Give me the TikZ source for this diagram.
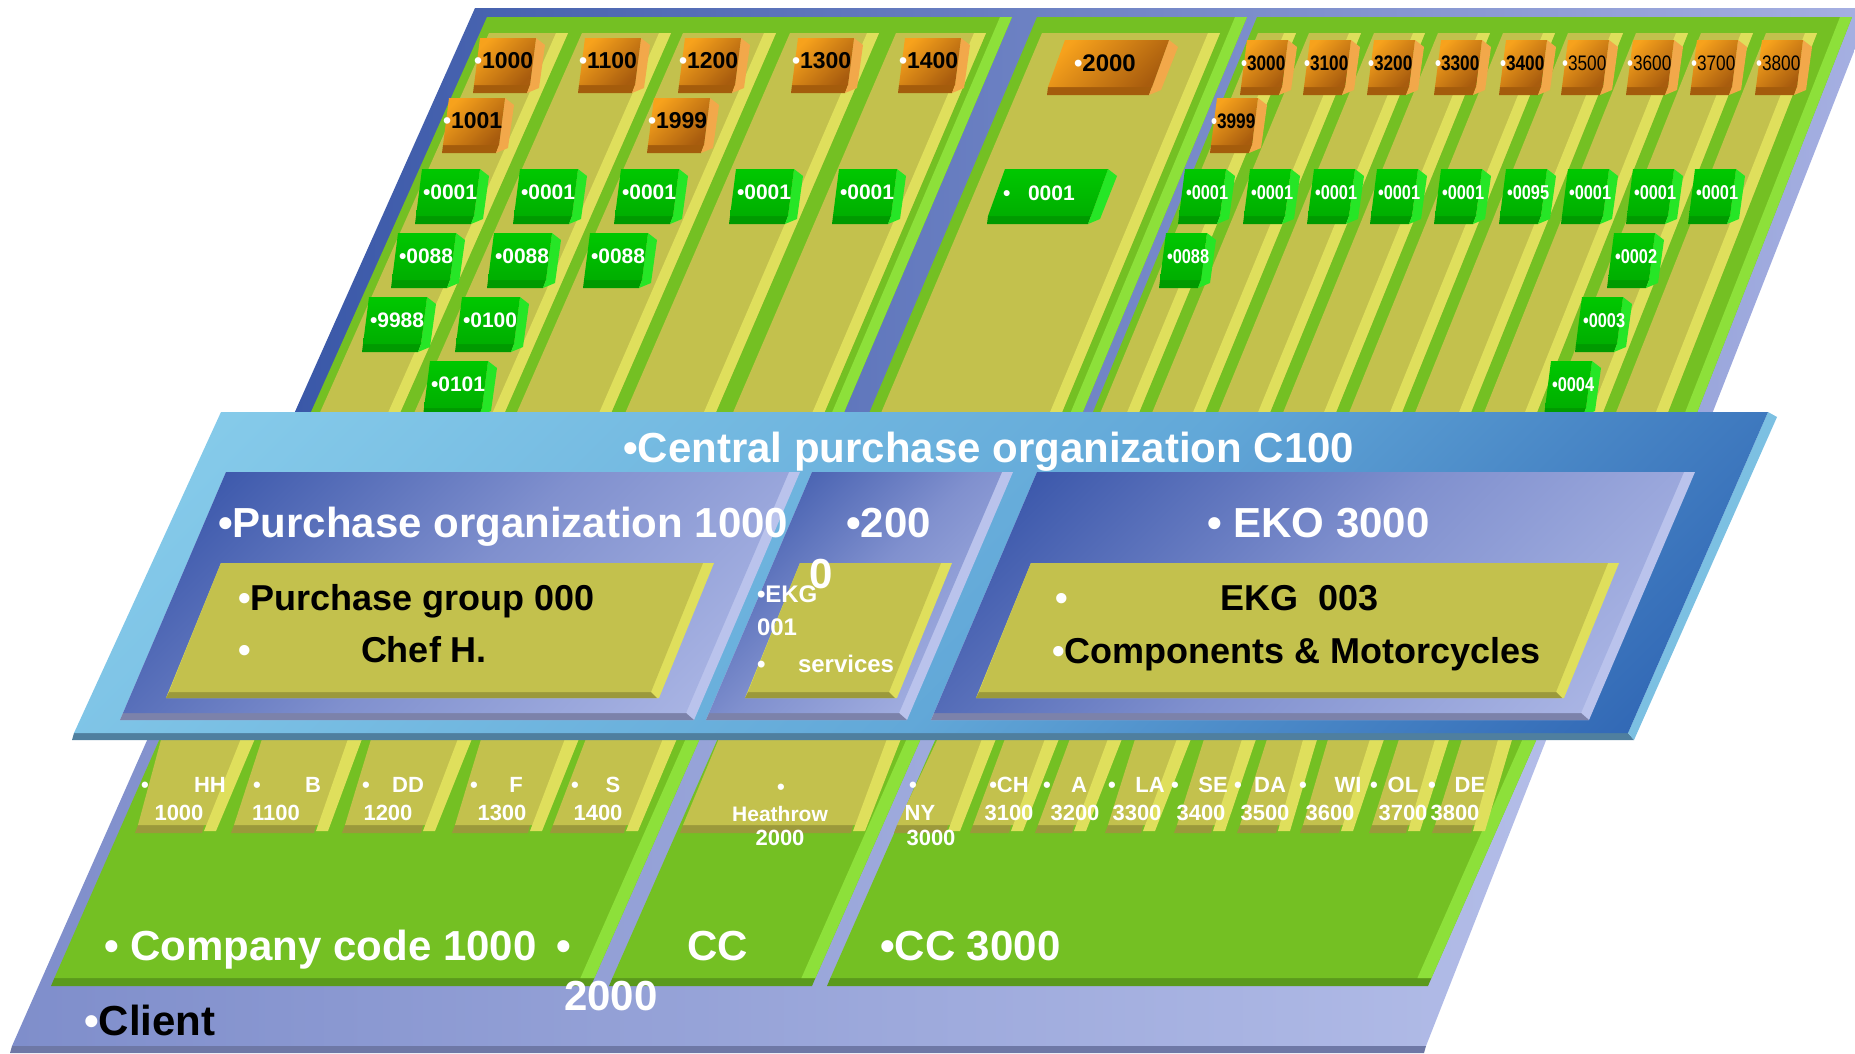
\documentclass[tikz,border=0pt]{standalone}
\usepackage{fontspec}
\setmainfont{Liberation Sans}
\newfontfamily\narrowsans[FakeStretch=0.82]{Liberation Sans}

% palette
\definecolor{olv}{HTML}{C3C14D}
\definecolor{olvlt}{HTML}{DFDF5C}
\definecolor{olvdk}{HTML}{9B993B}
\definecolor{grn}{HTML}{74C023}
\definecolor{grnlt}{HTML}{8DE03A}
\definecolor{grndk}{HTML}{5A9A1C}
\definecolor{topblue}{HTML}{3A58A8}
\definecolor{toplav}{HTML}{A6B0E2}
\definecolor{clientL}{HTML}{7F8ECB}
\definecolor{clientR}{HTML}{B3BDE8}
\definecolor{clientE}{HTML}{6E78A6}
\definecolor{bandlt}{HTML}{8ACFEC}
\definecolor{bandmid}{HTML}{62A8D8}
\definecolor{banddk}{HTML}{2A5EB0}
\definecolor{bandedge}{HTML}{4F7F9F}
\definecolor{bandside}{HTML}{7CC0E2}
\definecolor{pudk}{HTML}{2C4BA3}
\definecolor{pumid}{HTML}{8090CE}
\definecolor{pult}{HTML}{B3BDE9}
\definecolor{pubevel}{HTML}{BAC3EC}
\definecolor{pubot}{HTML}{7C82AA}
\definecolor{orlt}{HTML}{F7A21C}
\definecolor{ordk}{HTML}{A85C0E}
\definecolor{orside}{HTML}{F2A84A}
\definecolor{orbot}{HTML}{A45C0C}
\definecolor{gbfront}{HTML}{00C800}
\definecolor{gbfront2}{HTML}{00AE00}
\definecolor{gbside}{HTML}{26E626}
\definecolor{gbbot}{HTML}{009A00}

% diagonal ramps, spread over the whole shading square
\pgfdeclarehorizontalshading{bandramp}{100bp}{color(0bp)=(bandlt); color(15bp)=(bandlt); color(55bp)=(bandmid); color(85bp)=(banddk); color(100bp)=(banddk)}
\pgfdeclarehorizontalshading{porgramp}{100bp}{color(0bp)=(pudk); color(15bp)=(pudk); color(50bp)=(pumid); color(85bp)=(pult); color(100bp)=(pult)}

\tikzset{
  ofront/.style={top color=orlt, bottom color=ordk, shading angle=45},
  oside/.style={fill=orside},
  obot/.style={fill=orbot},
  gfront/.style={top color=gbfront, bottom color=gbfront2},
  gside/.style={fill=gbside},
  gbot/.style={fill=gbbot},
  boxlab/.style={inner sep=0pt, outer sep=0pt, anchor=base west, font=\bfseries\fontsize{21}{21}\selectfont},
  olab/.style={boxlab, text=black, font=\bfseries\fontsize{23}{23}\selectfont},
  glab/.style={boxlab, text=white},
  olabw/.style={olab, font=\bfseries\fontsize{24}{24}\selectfont},
  glabw/.style={glab, font=\bfseries\fontsize{21}{21}\selectfont},
  olabn/.style={olab, font=\narrowsans\bfseries\fontsize{21}{21}\selectfont},
  olabr/.style={olab, font=\narrowsans\fontsize{21}{21}\selectfont},
  glabn/.style={glab, font=\narrowsans\bfseries\fontsize{20}{20}\selectfont},
  txt/.style={inner sep=0pt, outer sep=0pt, anchor=base west},
  tw42/.style={txt, text=white, font=\bfseries\fontsize{42}{42}\selectfont},
  tk42/.style={txt, text=black, font=\bfseries\fontsize{42}{42}\selectfont},
  tk36/.style={txt, text=black, font=\bfseries\fontsize{36}{36}\selectfont},
  tw24/.style={txt, text=white, font=\bfseries\fontsize{24}{24}\selectfont},
  tw22/.style={inner sep=0pt, outer sep=0pt, anchor=base, text=white, font=\bfseries\fontsize{22}{22}\selectfont},
}

% upper layer: green panel given by its x at y=17, running down to y=414
\newcommand{\tpanel}[2]{%
  \pgfmathsetmacro\tpBL{#1-(0.446-(#1-475)/254/100)*397}%
  \pgfmathsetmacro\tpBR{#2-(0.446-(#2-475)/254/100)*397}%
  \fill[grn] (#1,17) -- (#2,17) -- (\tpBR,414) -- (\tpBL,414) -- cycle;
  \fill[grnlt] (#2-12,17) -- (#2,17) -- (\tpBR,414) -- (\tpBR-12,414) -- cycle;
}
% upper layer: olive plant column given by its x at y=33
\newcommand{\tstrip}[2]{%
  \pgfmathsetmacro\tsBL{#1-(0.446-(#1-475)/254/100)*381}%
  \pgfmathsetmacro\tsBR{#2-(0.446-(#2-475)/254/100)*381}%
  \fill[olv] (#1,33) -- (#2,33) -- (\tsBR,414) -- (\tsBL,414) -- cycle;
  \fill[olvlt] (#2-12,33) -- (#2,33) -- (\tsBR,414) -- (\tsBR-12,414) -- cycle;
}
% bevelled tile: front, side and bottom styles, top-left x, y, front width, slant
\newcommand{\cubeshape}[7]{%
  \path[#3] (#4-#7,#5+47) -- (#4+#6-#7,#5+47) -- (#4+#6-#7-3,#5+55) -- (#4-#7-1,#5+55) -- cycle;
  \path[#2] (#4+#6,#5) -- (#4+#6+9,#5+7) -- (#4+#6+9-#7,#5+50) -- (#4+#6-#7-3,#5+55) -- (#4+#6-#7,#5+47) -- cycle;
  \path[#1] (#4,#5) -- (#4+#6,#5) -- (#4+#6-#7,#5+47) -- (#4-#7,#5+47) -- cycle;
}
\newcommand{\obox}[6]{%
  \cubeshape{ofront}{oside}{obot}{#2}{#3}{#4}{6}%
  \node[#5] (#1) at (#2-6,#3+30) {\textcolor{white}{•}#6};}
\newcommand{\gbox}[6]{%
  \cubeshape{gfront}{gside}{gbot}{#2}{#3}{#4}{6}%
  \node[#5] (#1) at (#2+1,#3+30) {•#6};}
% lower layer: company code panel given by its x at y=738
\newcommand{\bpanel}[2]{%
  \fill[grndk] (#1-105.6,978) -- (#2-105.6,978) -- (#2-109,986) -- (#1-109,986) -- cycle;
  \fill[grn] (#1+8,720) -- (#2+8,720) -- (#2-105.6,978) -- (#1-105.6,978) -- cycle;
  \fill[grnlt] (#2-6,720) -- (#2+8,720) -- (#2-105.6,978) -- (#2-119.6,978) -- cycle;
}
% lower layer: plant column, top x pair (y=736) and bottom x pair (y=825)
\newcommand{\bstrip}[4]{%
  \fill[olvdk] (#3,825) -- (#4-12,825) -- (#4-14,833) -- (#3-3,833) -- cycle;
  \fill[olv] (#1,736) -- (#2,736) -- (#4,825) -- (#3,825) -- cycle;
  \fill[olvlt] (#2-14,736) -- (#2,736) -- (#4,831) -- (#4-12,831) -- cycle;
}
% purchase organisation slab, top-left and top-right x at y=472
\newcommand{\pobox}[2]{%
  \fill[pubevel] (#1,472) -- (#2,472) -- (#2-106,720) -- (#1-106,720) -- cycle;
  \fill[pubot] (#1-103,713) -- (#2-114,713) -- (#2-106,720) -- (#1-106,720) -- cycle;
  \path[shade, shading=porgramp, shading angle=-45] (#1,472) -- (#2-11,472) -- (#2-114,713) -- (#1-103,713) -- cycle;
}
% purchase group slab, top-left and top-right x at y=563
\newcommand{\pgbox}[2]{%
  \fill[olvlt] (#1,563) -- (#2,563) -- (#2-55,698) -- (#1-55,698) -- cycle;
  \fill[olvdk] (#1-52,692) -- (#2-63,692) -- (#2-57,698) -- (#1-55,698) -- cycle;
  \fill[olv] (#1,563) -- (#2-11,563) -- (#2-63,692) -- (#1-52,692) -- cycle;
}

\begin{document}
\begin{tikzpicture}[x=1pt,y=-1pt]
\useasboundingbox (0,0) rectangle (1855,1053);

% ---------- upper layer: client frame, company codes, plants, storage locations
\path[left color=topblue, right color=toplav] (475,8) -- (1871,8) -- (1712,414) -- (294,414) -- cycle;
\tpanel{487}{1012}
\tpanel{1037}{1247}
\tpanel{1257}{1852}
\tstrip{489}{568}\tstrip{582}{671}\tstrip{683}{776}\tstrip{790}{879}\tstrip{896}{986}
\tstrip{1042}{1220}
\tstrip{1258}{1296}\tstrip{1309}{1361}\tstrip{1374}{1425}\tstrip{1438}{1490}\tstrip{1503}{1555}
\tstrip{1568}{1623}\tstrip{1636}{1688}\tstrip{1701}{1753}\tstrip{1766}{1817}

% plants of company code 1000
\obox{w1000}{480}{38}{56}{olab}{1000}
\obox{w1100}{585}{38}{56}{olab}{1100}
\obox{w1200}{685}{38}{56}{olab}{1200}
\obox{w1300}{798}{38}{56}{olab}{1300}
\obox{w1400}{905}{38}{56}{olab}{1400}
\obox{w1001}{449}{98}{56}{olab}{1001}
\obox{w1999}{654}{98}{56}{olab}{1999}
% storage locations of company code 1000
\gbox{l1a}{422}{169}{58}{glab}{0001}
\gbox{l1b}{520}{169}{58}{glab}{0001}
\gbox{l1c}{621}{169}{58}{glab}{0001}
\gbox{l1d}{736}{169}{58}{glab}{0001}
\gbox{l1e}{839}{169}{58}{glab}{0001}
\gbox{l2a}{398}{233}{58}{glab}{0088}
\gbox{l2b}{494}{233}{58}{glab}{0088}
\gbox{l2c}{590}{233}{58}{glab}{0088}
\gbox{l3a}{369}{297}{58}{glab}{9988}
\gbox{l3b}{462}{297}{58}{glab}{0100}
\gbox{l4a}{430}{361}{58}{glab}{0101}

% company code 2000
\cubeshape{ofront}{oside}{obot}{1065}{40}{104}{17}
\node[olabw] (w2000) at (1074,71) {\textcolor{white}{•}2000};
\cubeshape{gfront}{gside}{gbot}{1005}{169}{103}{17}
\node[glabw] (l2000a) at (1003,200) {•};
\node[glabw] (l2000b) at (1028,200) {0001};

% plants of company code 3000
\obox{w3000}{1247}{40}{41}{olabn}{3000}
\obox{w3100}{1310}{40}{41}{olabn}{3100}
\obox{w3200}{1374}{40}{41}{olabn}{3200}
\obox{w3300}{1441}{40}{41}{olabn}{3300}
\obox{w3400}{1506}{40}{41}{olabn}{3400}
\obox{w3500}{1568}{40}{41}{olabr}{3500}
\obox{w3600}{1633}{40}{41}{olabr}{3600}
\obox{w3700}{1697}{40}{41}{olabr}{3700}
\obox{w3800}{1762}{40}{41}{olabr}{3800}
\obox{w3999}{1217}{98}{41}{olabn}{3999}
% storage locations of company code 3000
\gbox{m1a}{1185}{169}{41}{glabn}{0001}
\gbox{m1b}{1250}{169}{41}{glabn}{0001}
\gbox{m1c}{1314}{169}{41}{glabn}{0001}
\gbox{m1d}{1377}{169}{41}{glabn}{0001}
\gbox{m1e}{1441}{169}{41}{glabn}{0001}
\gbox{m1f}{1506}{169}{41}{glabn}{0095}
\gbox{m1g}{1568}{169}{41}{glabn}{0001}
\gbox{m1h}{1633}{169}{41}{glabn}{0001}
\gbox{m1i}{1695}{169}{41}{glabn}{0001}
\gbox{m2a}{1166}{233}{41}{glabn}{0088}
\gbox{m2b}{1614}{233}{41}{glabn}{0002}
\gbox{m3a}{1582}{297}{41}{glabn}{0003}
\gbox{m4a}{1551}{361}{41}{glabn}{0004}

% ---------- lower layer: client, company codes, plants
\path[left color=clientL, right color=clientR] (156,720) -- (1554,720) -- (1426,1046) -- (12,1046) -- cycle;
\fill[clientE] (12,1046) -- (1426,1046) -- (1424,1053) -- (10,1053) -- cycle;
\bpanel{160}{700}
\bpanel{718}{921}
\bpanel{936}{1537}
\bstrip{162}{256}{138}{216}
\bstrip{263}{363}{234}{328}
\bstrip{372}{473}{345}{435}
\bstrip{482}{580}{455}{542}
\bstrip{587}{678}{553}{638}
\bstrip{720}{902}{683}{865}
\bstrip{939}{997}{897}{960}
\bstrip{1006}{1060}{973}{1023}
\bstrip{1071}{1123}{1038}{1086}
\bstrip{1136}{1192}{1108}{1155}
\bstrip{1205}{1257}{1177}{1225}
\bstrip{1268}{1318}{1240}{1290}
\bstrip{1329}{1385}{1303}{1353}
\bstrip{1400}{1450}{1372}{1420}
\bstrip{1463}{1513}{1435}{1485}

% plant labels
\node[tw22] (bHH) at (145,792) {•};  \node[tw22] (nHH) at (210,792) {HH};  \node[tw22] (cHH) at (179,820) {1000};
\node[tw22] (bB) at (257,792) {•};   \node[tw22] (nB) at (313,792) {B};    \node[tw22] (cB) at (276,820) {1100};
\node[tw22] (bDD) at (366,792) {•};  \node[tw22] (nDD) at (408,792) {DD};  \node[tw22] (cDD) at (388,820) {1200};
\node[tw22] (bF) at (474,792) {•};   \node[tw22] (nF) at (516,792) {F};    \node[tw22] (cF) at (502,820) {1300};
\node[tw22] (bS) at (575,792) {•};   \node[tw22] (nS) at (613,792) {S};    \node[tw22] (cS) at (598,820) {1400};
\node[tw22] (bHe) at (781,794) {•};
\node[tw22, font=\bfseries\fontsize{21}{21}\selectfont] (nHe) at (780,821) {Heathrow};
\node[tw22] (cHe) at (780,845) {2000};
\node[tw22] (bNY) at (913,792) {•};  \node[tw22] (nNY) at (920,820) {NY};  \node[tw22] (cNY) at (931,845) {3000};
\node[tw22] (nCH) at (1009,792) {•CH}; \node[tw22] (cCH) at (1009,820) {3100};
\node[tw22] (bA) at (1047,792) {•};  \node[tw22] (nA) at (1079,792) {A};   \node[tw22] (cA) at (1075,820) {3200};
\node[tw22] (bLA) at (1112,792) {•}; \node[tw22] (nLA) at (1150,792) {LA}; \node[tw22] (cLA) at (1137,820) {3300};
\node[tw22] (bSE) at (1175,792) {•}; \node[tw22] (nSE) at (1213,792) {SE}; \node[tw22] (cSE) at (1201,820) {3400};
\node[tw22] (bDA) at (1238,792) {•}; \node[tw22] (nDA) at (1270,792) {DA}; \node[tw22] (cDA) at (1265,820) {3500};
\node[tw22] (bWI) at (1303,792) {•}; \node[tw22] (nWI) at (1348,792) {WI}; \node[tw22] (cWI) at (1330,820) {3600};
\node[tw22] (bOL) at (1374,792) {•}; \node[tw22] (nOL) at (1403,792) {OL}; \node[tw22] (cOL) at (1403,820) {3700};
\node[tw22] (bDE) at (1432,792) {•}; \node[tw22] (nDE) at (1470,792) {DE}; \node[tw22] (cDE) at (1455,820) {3800};

% company code and client labels
\node[tw42] (cc1000) at (104,960) {• Company code 1000};
\node[tw42] (cc2000a) at (556,960) {•};
\node[tw42] (cc2000b) at (564,1010) {2000};
\node[tw42] (cc2000c) at (687,960) {CC};
\node[tw42] (cc3000) at (880,960) {•CC 3000};
\node[tk42] (client) at (84,1035) {\textcolor{white}{•}Client};

% ---------- purchasing band
\fill[bandedge] (74,733) -- (1628,733) -- (1634,740) -- (72,740) -- cycle;
\fill[bandside] (1768,412) -- (1777,417) -- (1634,740) -- (1628,733) -- cycle;
\path[shade, shading=bandramp, shading angle=-45] (221,412) -- (1768,412) -- (1628,733) -- (74,733) -- cycle;
\node[tw42] (cpo) at (623,462) {•Central purchase organization C100};

\pobox{226}{800}
\pobox{812}{1013}
\pobox{1037}{1695}
\pgbox{221}{714}
\pgbox{800}{952}
\pgbox{1031}{1619}

\node[tw42] (po1000) at (218,537) {•Purchase organization 1000};
\node[tw42] (po2000a) at (846,537) {•200};
\node[tw42] (po2000b) at (809,588) {0};
\node[tw42] (eko) at (1207,537) {• EKO 3000};

\node[tk36] (pg000) at (238,610) {\textcolor{white}{•}Purchase group 000};
\node[tk36] (chefb) at (238,662) {\textcolor{white}{•}};
\node[tk36] (chef) at (361,662) {Chef H.};
\node[tw24] (ekg1) at (757,602) {•EKG};
\node[tw24] (ekg1n) at (757,635) {001};
\node[tw24] (ekg1b) at (757,672) {•};
\node[tw24] (ekg1s) at (798,672) {services};
\node[tk36] (ekg3b) at (1055,610) {\textcolor{white}{•}};
\node[tk36] (ekg3) at (1220,610) {EKG\ \ 003};
\node[tk36] (moto) at (1052,663) {\textcolor{white}{•}Components \& Motorcycles};
\end{tikzpicture}
\end{document}
